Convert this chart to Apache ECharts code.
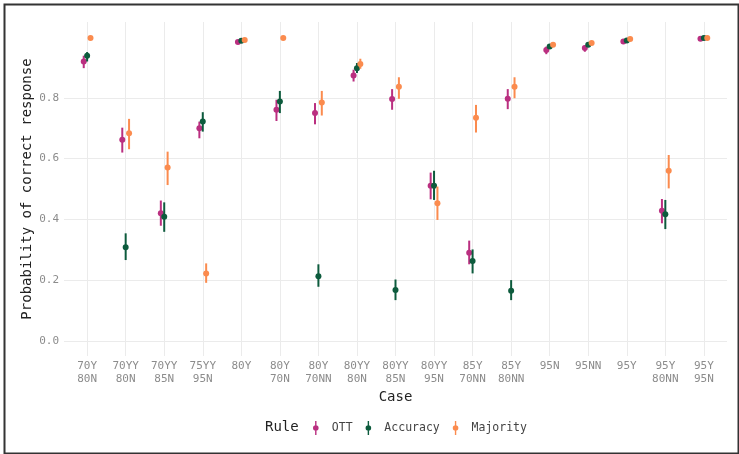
<!DOCTYPE html>
<html>
<head>
<meta charset="utf-8">
<script src="https://cdn.jsdelivr.net/npm/echarts@6/dist/echarts.min.js"></script>
<style>
  html, body { margin: 0; padding: 0; background: #fff; }
  #chart { width: 739px; height: 454px; }
</style>
</head>
<body>
<div id="chart"></div>
<script>
const categories = ['70Y\n80N','70YY\n80N','70YY\n85N','75YY\n95N','80Y','80Y\n70N','80Y\n70NN','80YY\n80N','80YY\n85N','80YY\n95N','85Y\n70NN','85Y\n80NN','95N','95NN','95Y','95Y\n80NN','95Y\n95N'];
const yTicks = [0, 0.2, 0.4, 0.6, 0.8];
const ruleNames = ['OTT', 'Accuracy', 'Majority'];

const ottMean = [0.920,0.662,0.420,0.700,0.984,0.761,0.750,0.874,0.796,0.511,0.290,0.797,0.958,0.964,0.986,0.428,0.995];
const ottLow  = [0.898,0.620,0.379,0.667,0.979,0.724,0.713,0.854,0.761,0.466,0.252,0.763,0.944,0.952,0.981,0.387,0.993];
const ottHigh = [0.939,0.702,0.462,0.722,0.988,0.794,0.783,0.893,0.829,0.554,0.330,0.829,0.969,0.973,0.990,0.467,0.997];

const accMean = [0.939,0.308,0.409,0.722,0.988,0.788,0.213,0.898,0.167,0.511,0.263,0.165,0.969,0.975,0.989,0.417,0.997];
const accLow  = [0.920,0.266,0.359,0.689,0.984,0.750,0.178,0.882,0.134,0.464,0.222,0.134,0.961,0.968,0.985,0.368,0.995];
const accHigh = [0.951,0.354,0.456,0.753,0.991,0.823,0.252,0.915,0.202,0.560,0.301,0.200,0.975,0.981,0.992,0.464,0.998];

const majMean = [0.997,0.684,0.571,0.222,0.991,0.997,0.785,0.912,0.837,0.453,0.735,0.837,0.975,0.981,0.994,0.560,0.997];
const majLow  = [0.995,0.631,0.513,0.191,0.988,0.995,0.742,0.896,0.797,0.398,0.686,0.799,0.970,0.976,0.991,0.502,0.995];
const majHigh = [0.998,0.731,0.623,0.255,0.994,0.998,0.823,0.929,0.868,0.508,0.777,0.868,0.980,0.985,0.996,0.612,0.998];

const colors = ['#BA2F80', '#0D5B3D', '#FB8B4E'];
const dodge = [-0.088, 0, 0.088];
const FONT = 'DejaVu Sans Mono';

const seriesData = [[ottMean, ottLow, ottHigh], [accMean, accLow, accHigh], [majMean, majLow, majHigh]];
const catIdx = categories.map((c, i) => i);

function makeSeries(k) {
  const [m, lo, hi] = seriesData[k];
  return {
    name: ruleNames[k],
    type: 'custom',
    itemStyle: { color: colors[k] },
    encode: { x: 0, y: [1, 2, 3] },
    data: catIdx.map(i => [i, m[i], lo[i], hi[i]]),
    renderItem: function (params, api) {
      const x = api.value(0) + dodge[k];
      const p = api.coord([x, api.value(1)]);
      const pl = api.coord([x, api.value(2)]);
      const ph = api.coord([x, api.value(3)]);
      const c = api.visual('color');
      return {
        type: 'group',
        children: [
          { type: 'line', shape: { x1: pl[0], y1: pl[1], x2: ph[0], y2: ph[1] }, style: { stroke: c, lineWidth: 2 } },
          { type: 'circle', shape: { cx: p[0], cy: p[1], r: 3 }, style: { fill: c } }
        ]
      };
    }
  };
}

const chart = echarts.init(document.getElementById('chart'), null, { renderer: 'canvas' });
chart.setOption({
  animation: false,
  backgroundColor: '#fff',
  textStyle: { fontFamily: FONT },
  grid: { left: 64, right: 12, top: 22, bottom: 98, containLabel: false },
  xAxis: {
    type: 'value',
    min: -0.6, max: 16.6,
    name: 'Case', nameLocation: 'middle', nameGap: 34, nameMoveOverlap: false,
    nameTextStyle: { fontFamily: FONT, fontSize: 14, color: '#222' },
    axisLine: { show: false },
    axisTick: { show: false, customValues: catIdx },
    axisLabel: {
      customValues: catIdx,
      formatter: v => categories[Math.round(v)] || '',
      color: '#8c8c8c', fontFamily: FONT, fontSize: 11, lineHeight: 13, margin: 4,
      verticalAlign: 'top'
    },
    splitLine: { show: true, lineStyle: { color: '#ebebeb', width: 1 } }
  },
  yAxis: {
    type: 'value',
    min: -0.05, max: 1.05,
    name: 'Probability of correct response', nameLocation: 'middle', nameGap: 30, nameMoveOverlap: false,
    nameTextStyle: { fontFamily: FONT, fontSize: 14, color: '#222' },
    axisLine: { show: false },
    axisTick: { show: false, customValues: yTicks },
    axisLabel: {
      customValues: yTicks,
      formatter: v => v.toFixed(1),
      color: '#8c8c8c', fontFamily: FONT, fontSize: 11, margin: 5
    },
    splitLine: { show: true, lineStyle: { color: '#ebebeb', width: 1 } }
  },
  legend: {
    left: 308, top: 416,
    data: ruleNames,
    icon: 'path://M3,0L5,0L5,20L3,20Z M8,10A4,4,0,1,1,0,10A4,4,0,1,1,8,10Z',
    itemWidth: 22, itemHeight: 14, itemGap: 13,
    textStyle: { fontFamily: FONT, fontSize: 11.5, color: '#444' }
  },
  graphic: [
    { type: 'rect', left: 2, top: 2, shape: { width: 734, height: 449 }, style: { fill: 'none', stroke: '#333', lineWidth: 2 }, silent: true },
    { type: 'text', left: 265, top: 420, style: { text: 'Rule', font: '14px "DejaVu Sans Mono"', fill: '#222' } }
  ],
  series: [0, 1, 2].map(makeSeries)
});
</script>
</body>
</html>
